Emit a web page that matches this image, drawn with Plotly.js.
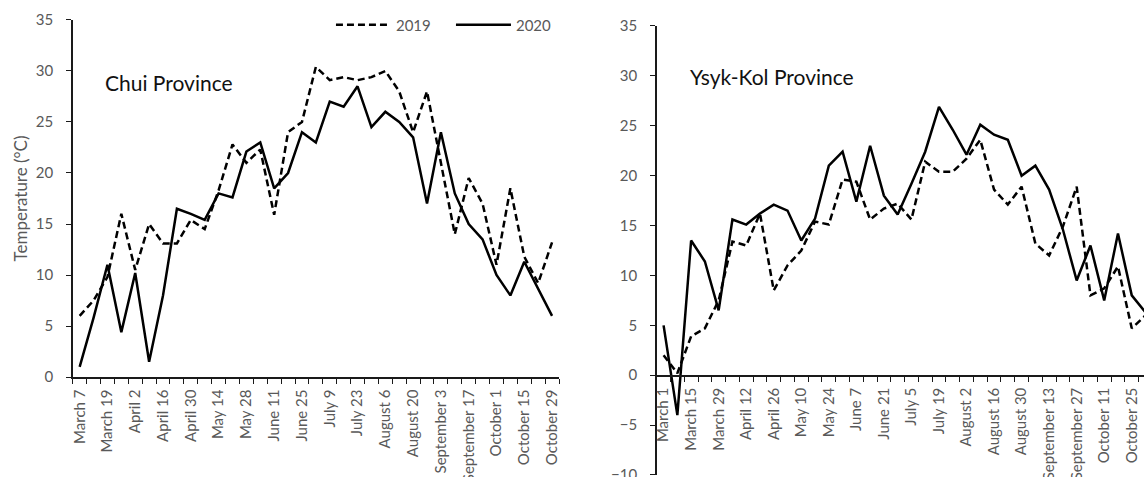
<!DOCTYPE html>
<html>
<head>
<meta charset="utf-8">
<script src="https://cdn.plot.ly/plotly-3.0.1.min.js"></script>
<style>
  html, body { margin: 0; padding: 0; background: #fff; overflow: hidden; }
  #chart { width: 1144px; height: 477px; }
</style>
</head>
<body>
<div id="chart"></div>
<script>
// ---------- Chui Province (weekly, 2019 vs 2020) ----------
const chuiWeeks = [
  'March 7','March 12','March 19','March 26','April 2','April 9','April 16','April 23',
  'April 30','May 7','May 14','May 21','May 28','June 4','June 11','June 18','June 25',
  'July 2','July 9','July 16','July 23','July 30','August 6','August 13','August 20',
  'August 27','September 3','September 10','September 17','September 24','October 1',
  'October 8','October 15','October 22','October 29'
];
const chuiTickLabels = [
  'March 7','March 19','April 2','April 16','April 30','May 14','May 28','June 11',
  'June 25','July 9','July 23','August 6','August 20','September 3','September 17',
  'October 1','October 15','October 29'
];
const chui2019 = [6, 7.5, 9.8, 16, 10.5, 15, 13.1, 13.1, 15.4, 14.5, 18.3, 22.8, 21, 22.3, 15.9,
  24, 25, 30.4, 29.1, 29.4, 29.1, 29.4, 30, 28, 24, 28, 21, 14, 19.5, 17, 11, 18.5, 11.8, 9.2, 13.2];
const chui2020 = [1, 5.8, 11, 4.4, 10.2, 1.5, 8, 16.5, 16, 15.4, 18, 17.6, 22.1, 23, 18.5,
  20, 24, 23, 27, 26.5, 28.5, 24.5, 26, 25, 23.5, 17, 24, 18, 15, 13.5, 10, 8, 11.3, 8.7, 6];

// ---------- Ysyk-Kol Province (weekly, 2019 vs 2020) ----------
const ysykWeeks = [
  'March 1','March 8','March 15','March 22','March 29','April 5','April 12','April 19',
  'April 26','May 3','May 10','May 17','May 24','May 31','June 7','June 14','June 21',
  'June 28','July 5','July 12','July 19','July 26','August 2','August 9','August 16',
  'August 23','August 30','September 6','September 13','September 20','September 27',
  'October 4','October 11','October 18','October 25','November 1'
];
const ysykTickLabels = [
  'March 1','March 15','March 29','April 12','April 26','May 10','May 24','June 7',
  'June 21','July 5','July 19','August 2','August 16','August 30','September 13',
  'September 27','October 11','October 25'
];
const ysyk2019 = [2.0, 0.2, 3.9, 4.7, 7.5, 13.4, 13.0, 16.2, 8.5, 11.0, 12.5, 15.4, 15.1, 19.6,
  19.4, 15.6, 16.7, 17.2, 15.6, 21.4, 20.4, 20.4, 21.7, 23.6, 18.6, 17.1, 18.9, 13.2, 12.0,
  14.9, 18.9, 8.0, 8.7, 10.9, 4.7, 6.0];
const ysyk2020 = [5, -4, 13.5, 11.4, 6.5, 15.6, 15.1, 16.2, 17.1, 16.5, 13.5, 15.7, 21.0, 22.4,
  17.4, 23.0, 18.0, 16.1, 19.2, 22.4, 26.9, 24.6, 22.1, 25.1, 24.1, 23.6, 20.0, 21.0, 18.6,
  14.6, 9.5, 13.0, 7.5, 14.2, 8.0, 6.3];

const seriesNames = ['2019', '2020'];
const panelTitles = ['Chui Province', 'Ysyk-Kol Province'];

// ---------- build ----------
const idx = arr => arr.map((_, i) => i);
const tickPos = (weeks, labels) => labels.map(l => weeks.indexOf(l));

const dashStyle = {color: '#000', width: 2.5, dash: '7px,4px'};
const solidStyle = {color: '#000', width: 2.5};

const traces = [
  {x: idx(chuiWeeks), y: chui2019, text: chuiWeeks, type: 'scatter', mode: 'lines', name: seriesNames[0],
   line: dashStyle, xaxis: 'x', yaxis: 'y', legend: 'legend', showlegend: true},
  {x: idx(chuiWeeks), y: chui2020, text: chuiWeeks, type: 'scatter', mode: 'lines', name: seriesNames[1],
   line: solidStyle, xaxis: 'x', yaxis: 'y', legend: 'legend2', showlegend: true},
  {x: idx(ysykWeeks), y: ysyk2019, text: ysykWeeks, type: 'scatter', mode: 'lines', name: seriesNames[0],
   line: dashStyle, xaxis: 'x2', yaxis: 'y2', showlegend: false},
  {x: idx(ysykWeeks), y: ysyk2020, text: ysykWeeks, type: 'scatter', mode: 'lines', name: seriesNames[1],
   line: solidStyle, xaxis: 'x2', yaxis: 'y2', showlegend: false}
];

const axisColor = '#1a1a1a';
const labelColor = '#595959';
const baseX = {
  showgrid: false, zeroline: false, showline: true, linecolor: axisColor, linewidth: 1.5,
  tickmode: 'array', ticks: '', tickangle: -90, ticklabelstandoff: 5,
  tickfont: {size: 15, color: labelColor},
  minor: {tickmode: 'linear', tick0: -0.5, dtick: 1, ticks: 'outside', ticklen: 5,
          tickcolor: axisColor, tickwidth: 1}
};
const baseY = {
  showgrid: false, zeroline: false, showline: true, linecolor: axisColor, linewidth: 1.5,
  tickmode: 'linear', tick0: 0, dtick: 5, ticks: 'outside', ticklen: 5, tickcolor: axisColor,
  tickwidth: 1, ticklabelstandoff: 10, ticklabeloverflow: 'allow',
  tickfont: {size: 15, color: labelColor}
};

const layout = {
  width: 1144, height: 477,
  margin: {l: 0, r: 0, t: 0, b: 0},
  paper_bgcolor: '#ffffff', plot_bgcolor: 'rgba(0,0,0,0)',
  font: {family: 'Lato, "Open Sans", sans-serif', size: 15, color: labelColor},
  xaxis: Object.assign({}, baseX, {
    domain: [0.06355, 0.48864], range: [-0.5, 34.5], anchor: 'y',
    tickvals: tickPos(chuiWeeks, chuiTickLabels), ticktext: chuiTickLabels
  }),
  yaxis: Object.assign({}, baseY, {
    domain: [0.2096, 0.9581], range: [0, 35], anchor: 'x',
    title: {text: 'Temperature (°C)', font: {size: 17, color: labelColor}, standoff: 4}
  }),
  xaxis2: Object.assign({}, baseX, {
    domain: [0.57404, 1], range: [-0.5, 34.89], anchor: 'free', position: 0.2134,
    tickvals: tickPos(ysykWeeks, ysykTickLabels), ticktext: ysykTickLabels
  }),
  yaxis2: Object.assign({}, baseY, {
    domain: [0.00419, 0.9455], range: [-10, 35], anchor: 'x2'
  }),
  legend: {x: 0.2893, y: 0.9476, xanchor: 'left', yanchor: 'middle', orientation: 'h',
           itemwidth: 55, bgcolor: 'rgba(0,0,0,0)', font: {size: 15, color: labelColor}},
  legend2: {x: 0.3942, y: 0.9476, xanchor: 'left', yanchor: 'middle', orientation: 'h',
            itemwidth: 55, bgcolor: 'rgba(0,0,0,0)', font: {size: 15, color: labelColor}},
  annotations: [
    {text: panelTitles[0], xref: 'paper', yref: 'paper', x: 0.09, y: 0.828,
     xanchor: 'left', yanchor: 'middle', showarrow: false, font: {size: 21, color: '#111'}},
    {text: panelTitles[1], xref: 'paper', yref: 'paper', x: 0.6014, y: 0.8386,
     xanchor: 'left', yanchor: 'middle', showarrow: false, font: {size: 21, color: '#111'}}
  ]
};

Plotly.newPlot('chart', traces, layout, {displayModeBar: false, staticPlot: true});
</script>
</body>
</html>
